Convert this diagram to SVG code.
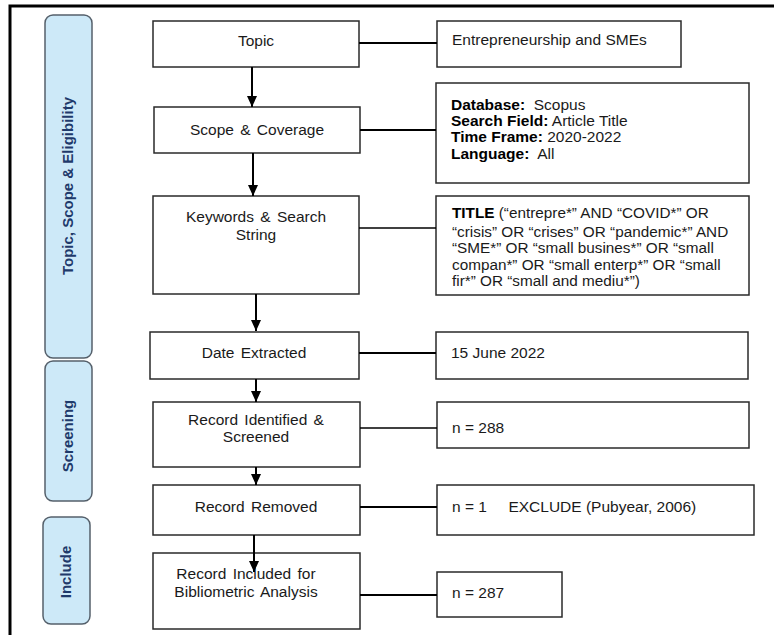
<svg xmlns="http://www.w3.org/2000/svg" width="774" height="635" viewBox="0 0 774 635">
<style>
  .frame{fill:none;stroke:#000;stroke-width:3}
  .side rect{fill:#cde9f8;stroke:#55606b;stroke-width:1.5}
  .side text{font-family:"Liberation Sans",Arial,sans-serif;font-size:15px;font-weight:bold;fill:#1f3a6b;text-anchor:middle}
  .box rect{fill:#fff;stroke:#2a2a2a;stroke-width:1.5}
  .box text{font-family:"Liberation Sans",Arial,sans-serif;font-size:15.5px;fill:#1a1a1a}
  .box text.c{text-anchor:middle;word-spacing:2px}
  .info text{font-size:15.5px}
  .info.kw text{font-size:15.3px}
  .info tspan.b{font-weight:bold;fill:#000}
  .conn line{stroke:#000;stroke-width:2}
  .conn line.thin{stroke-width:1.3}
</style>
<defs>
  <marker id="ah" markerWidth="12" markerHeight="10" refX="11" refY="5" orient="auto" markerUnits="userSpaceOnUse">
    <path d="M0,0 L11,5 L0,10 Z" fill="#000"/>
  </marker>
</defs>
<rect width="774" height="635" fill="#fff"/>
<path class="frame" d="M10,635 L10,6 L774,6"/>

<g id="side-topic" class="side"><rect x="45" y="15" width="47" height="343" rx="8"/><text transform="translate(73,186) rotate(-90)">Topic,  Scope &amp; Eligibility</text></g>
<g id="side-screening" class="side"><rect x="45" y="361" width="47" height="140" rx="8"/><text transform="translate(73,436) rotate(-90)">Screening</text></g>
<g id="side-include" class="side"><rect x="43" y="517" width="47" height="107" rx="8"/><text transform="translate(71,572) rotate(-90)">Include</text></g>

<g id="n-topic" class="box"><rect x="153" y="21" width="206" height="46"/><text class="c" x="256" y="46">Topic</text></g>
<g id="n-scope" class="box"><rect x="154" y="107" width="206" height="46"/><text class="c" x="257" y="135">Scope &amp; Coverage</text></g>
<g id="n-keywords" class="box"><rect x="153" y="196" width="206" height="98"/><text class="c" x="256" y="222">Keywords &amp; Search</text><text class="c" x="256" y="240">String</text></g>
<g id="n-date" class="box"><rect x="150" y="332" width="209" height="47"/><text class="c" x="254" y="358">Date Extracted</text></g>
<g id="n-identified" class="box"><rect x="153" y="402" width="207" height="65"/><text class="c" x="256" y="425">Record Identified &amp;</text><text class="c" x="256" y="442">Screened</text></g>
<g id="n-removed" class="box"><rect x="153" y="485" width="207" height="50"/><text class="c" x="256" y="512">Record Removed</text></g>
<g id="n-included" class="box"><rect x="153" y="553" width="207" height="76"/><text class="c" x="246" y="579">Record Included for</text><text class="c" x="246" y="597">Bibliometric Analysis</text></g>

<g id="i-topic" class="box info"><rect x="437" y="21" width="244" height="46"/><text x="452" y="45">Entrepreneurship and SMEs</text></g>
<g id="i-scope" class="box info"><rect x="436" y="83" width="313" height="100"/>
  <text x="451" y="110" xml:space="preserve"><tspan class="b">Database:</tspan>  Scopus</text>
  <text x="451" y="126"><tspan class="b">Search Field:</tspan> Article Title</text>
  <text x="451" y="142"><tspan class="b">Time Frame:</tspan> 2020-2022</text>
  <text x="451" y="159" xml:space="preserve"><tspan class="b">Language:</tspan>  All</text>
</g>
<g id="i-keywords" class="box info kw"><rect x="436" y="196" width="313" height="99"/>
  <text x="452" y="218"><tspan class="b">TITLE</tspan> (“entrepre*” AND “COVID*” OR</text>
  <text x="452" y="237">“crisis” OR “crises” OR “pandemic*” AND</text>
  <text x="452" y="253">“SME*” OR “small busines*” OR “small</text>
  <text x="452" y="270">compan*” OR “small enterp*” OR “small</text>
  <text x="452" y="286">fir*” OR “small and mediu*”)</text>
</g>
<g id="i-date" class="box info"><rect x="436" y="332" width="312" height="47"/><text x="451" y="358">15 June 2022</text></g>
<g id="i-identified" class="box info"><rect x="437" y="402" width="312" height="46"/><text x="452" y="433">n = 288</text></g>
<g id="i-removed" class="box info"><rect x="437" y="485" width="317" height="50"/><text x="452" y="512" xml:space="preserve">n = 1     EXCLUDE (Pubyear, 2006)</text></g>
<g id="i-included" class="box info"><rect x="437" y="572" width="125" height="45"/><text x="452" y="598">n = 287</text></g>

<g class="conn" id="connectors">
  <line x1="252" y1="67" x2="252" y2="107" marker-end="url(#ah)"/>
  <line x1="253" y1="153" x2="253" y2="196" marker-end="url(#ah)"/>
  <line x1="256" y1="294" x2="256" y2="331" marker-end="url(#ah)"/>
  <line x1="256" y1="379" x2="256" y2="402" marker-end="url(#ah)"/>
  <line x1="256" y1="467" x2="256" y2="485" marker-end="url(#ah)"/>
  <line x1="254" y1="535" x2="254" y2="572" marker-end="url(#ah)"/>
  <line x1="359" y1="43" x2="437" y2="43"/>
  <line x1="360" y1="130" x2="436" y2="130"/>
  <line class="thin" x1="359" y1="228" x2="436" y2="228"/>
  <line x1="359" y1="353" x2="436" y2="353"/>
  <line class="thin" x1="360" y1="428" x2="437" y2="428"/>
  <line x1="360" y1="507" x2="437" y2="507"/>
  <line x1="360" y1="595" x2="437" y2="595"/>
</g>
</svg>
